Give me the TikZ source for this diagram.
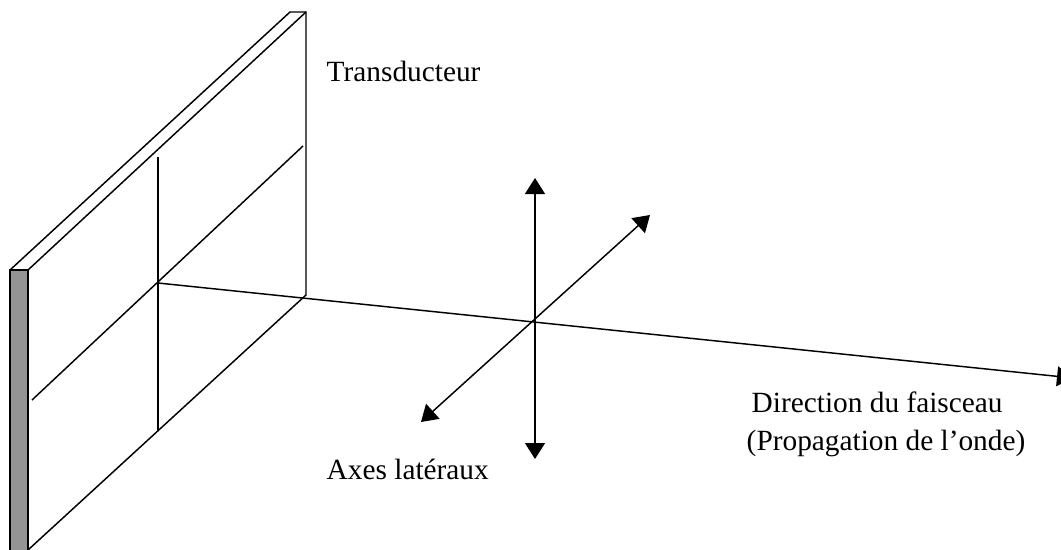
\documentclass[tikz,border=0pt]{standalone}
\usepackage{fontspec}
\setmainfont{Liberation Serif}
\usetikzlibrary{arrows.meta}
\begin{document}
\begin{tikzpicture}[x=0.75pt,y=-0.75pt,line width=1.1pt,
		every node/.style={font=\fontsize{22}{26}\selectfont,inner sep=0pt,anchor=base west},
		pointe/.tip={Triangle[length=12pt,width=15pt]},
		axe/.style={pointe-pointe}]
		\useasboundingbox (0,0) rectangle (1061,550);
		% plaque
		\coordinate (hautG) at (10,270);
		\coordinate (hautD) at (28,270);
		\coordinate (basG) at (10,550);
		\coordinate (basD) at (28,550);
		\coordinate (fondG) at (290,12);
		\coordinate (fondD) at (306,12);
		\coordinate (fondB) at (306,295);
		\fill[black!42] (hautG) -- (hautD) -- (basD) -- (basG) -- cycle;
		\draw (basG) -- (hautG) -- (hautD) -- (basD);
		\draw (hautG) -- (fondG) -- (fondD) -- (fondB) -- (basD);
		\draw (hautD) -- (fondD);
		% croix sur la plaque
		\coordinate (centre) at (158,283);
		\coordinate (croixH) at (158,157);
		\coordinate (croixB) at (158,431);
		\coordinate (croixG) at (32,400);
		\coordinate (croixD) at (303,146);
		\draw (croixH) -- (croixB);
		\draw (croixG) -- (croixD);
		% axes
		\coordinate (faisceau) at (1073,378);
		\coordinate (axeH) at (535,178);
		\coordinate (axeB) at (535,459);
		\coordinate (axeG) at (421,422);
		\coordinate (axeD) at (650,215);
		\draw[-pointe] (centre) -- (faisceau);
		\draw[axe] (axeB) -- (axeH);
		\draw[axe] (axeG) -- (axeD);
		\node (transducteur) at (326,81) {Transducteur};
		\node (direction) at (751,412) {Direction du faisceau};
		\node (propagation) at (746,450) {(Propagation de l’onde)};
		\node (lateraux) at (326,479) {Axes latéraux};
	\end{tikzpicture}
\end{document}
